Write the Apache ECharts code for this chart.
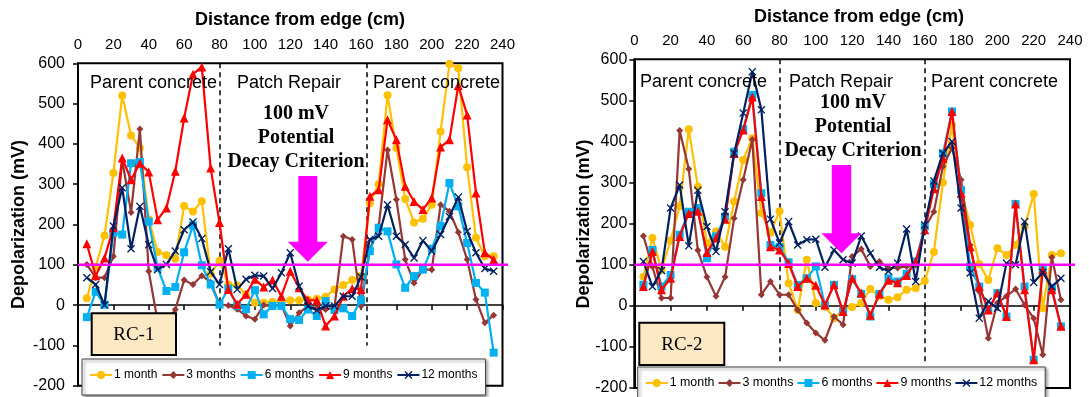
<!DOCTYPE html>
<html>
<head>
<meta charset="utf-8">
<script src="https://cdn.jsdelivr.net/npm/echarts@6/dist/echarts.min.js"></script>
<style>
html,body{margin:0;padding:0;background:#fff;}
#chart{width:1089px;height:397px;}
</style>
</head>
<body>
<div id="chart"></div>
<script>
// ---------------- DATA ----------------
const positions = [5,10,15,20,25,30,35,40,45,50,55,60,65,70,75,80,85,90,95,100,105,110,115,120,125,130,135,140,145,150,155,160,165,170,175,180,185,190,195,200,205,210,215,220,225,230,235];
const xTicks = [0,20,40,60,80,100,120,140,160,180,200,220,240];
const yTicks = [-200,-100,0,100,200,300,400,500,600];
const seriesNames = ['1 month','3 months','6 months','9 months','12 months'];

// RC-1 (left panel)
const rc1_m1  = [17,95,173,328,520,421,390,213,132,124,115,246,232,258,78,110,51,49,26,6,6,8,8,12,12,14,16,21,39,50,62,72,253,300,521,390,263,205,214,249,431,598,588,342,167,121,121];
const rc1_m3  = [101,68,68,121,360,230,437,84,-40,-45,-11,62,51,73,57,2,-1,-10,-27,-35,0,-3,0,-52,-19,-3,-8,-11,-5,171,163,-2,138,196,385,262,113,55,88,88,249,233,181,113,14,-44,-25];
const rc1_m6  = [-30,33,1,179,175,352,355,207,93,35,45,131,198,99,51,1,41,-2,-10,37,-23,-2,-2,-35,-37,-11,-27,10,-12,-8,-27,12,134,192,183,101,43,72,88,140,196,303,245,154,55,31,-118];
const rc1_m9  = [152,73,117,192,365,311,352,330,212,241,332,464,573,591,340,205,39,2,27,64,45,62,22,84,43,12,12,-52,-27,22,41,39,270,286,460,410,295,257,237,266,392,410,545,472,278,130,113];
const rc1_m12 = [68,51,0,196,291,140,245,150,88,101,134,187,206,165,83,51,140,39,64,74,72,41,80,130,47,-3,-13,-2,-2,22,22,70,163,171,249,171,150,117,160,134,175,220,268,183,130,91,84];

// RC-2 (right panel)
const rc2_m1  = [71,165,88,159,243,430,290,152,181,144,254,355,408,226,178,230,55,-10,112,7,-2,-30,-10,-3,7,41,23,15,21,39,43,61,131,300,440,282,197,102,63,140,124,148,193,272,-6,124,128];
const rc2_m3  = [170,95,19,19,427,333,135,70,23,70,213,307,405,27,59,27,27,-10,-42,-66,-84,-26,-46,120,138,96,108,92,92,96,99,189,229,339,384,307,148,35,-79,7,23,41,2,-30,-119,118,15];
const rc2_m6  = [51,136,47,75,173,229,238,116,169,217,375,430,513,274,148,143,106,51,67,96,2,51,-14,65,29,-26,29,67,59,78,108,193,296,371,473,282,96,47,-10,31,-26,248,47,-131,88,43,-50];
const rc2_m9  = [47,132,39,67,169,225,230,130,165,211,371,428,508,266,144,136,103,47,67,50,2,51,-14,67,31,-23,29,62,56,74,108,185,285,359,473,274,144,47,-10,31,-26,248,39,-131,88,39,-50];
const rc2_m12 = [108,47,86,238,294,146,281,193,132,229,371,469,570,477,211,153,205,148,161,162,94,136,112,104,170,128,94,84,104,187,59,197,304,371,400,238,80,-30,11,-6,104,100,205,57,81,47,67];

const rc1Data = [rc1_m1, rc1_m3, rc1_m6, rc1_m9, rc1_m12];
const rc2Data = [rc2_m1, rc2_m3, rc2_m6, rc2_m9, rc2_m12];
const dividers1 = [80, 163];
const dividers2 = [80, 160];
const criterion = 100;

// ---------------- STYLE ----------------
const SANS = 'Liberation Sans, Arial, sans-serif';
const SERIF = 'Liberation Serif, Times New Roman, serif';
const colors = ['#FFC000','#953735','#00B0F0','#FF0000','#002060'];
const xPath = 'path://M0,1.2L1.2,0L5,3.8L8.8,0L10,1.2L6.2,5L10,8.8L8.8,10L5,6.2L1.2,10L0,8.8L3.8,5Z';
const symbols = ['circle','diamond','rect','triangle', xPath];
const symSizes = [8,7,8,9,8];

const chart = echarts.init(document.getElementById('chart'), null, {renderer:'canvas'});

function makeSeries(dataSets, gridIdx, dividers) {
  return dataSets.map((vals, i) => {
    const s = {
      name: seriesNames[i],
      type: 'line',
      xAxisIndex: gridIdx*2 + 1,
      yAxisIndex: gridIdx,
      data: positions.map((p, k) => [p, vals[k]]),
      symbol: symbols[i],
      symbolSize: symSizes[i],
      showAllSymbol: true,
      lineStyle: {color: colors[i], width: 2.2},
      itemStyle: {color: colors[i], borderColor: colors[i], borderWidth: 0},
      emphasis: {disabled: true},
      clip: false,
      z: 3 + i
    };
    if (i === 0) {
      s.markLine = {
        silent: true,
        symbol: 'none',
        label: {show: false},
        lineStyle: {color: '#000', type: [5,4], width: 1.5},
        data: dividers.map(d => [{coord:[d, 600]}, {coord:[d, gridIdx === 0 ? -100 : -140]}]),
        z: 2
      };
    }
    return s;
  });
}

function xAxes(gridIdx, labelMargin) {
  return [
    {
      gridIndex: gridIdx, type: 'value', position: 'top', min: 0, max: 240, interval: 20,
      axisLine: {show: false, onZero: false}, axisTick: {show: false}, splitLine: {show: false},
      axisLabel: {fontFamily: SANS, fontSize: 15, color: '#000', margin: labelMargin}
    },
    {
      gridIndex: gridIdx, type: 'value', position: 'bottom', min: 0, max: 240, interval: 20,
      axisLine: {show: true, onZero: true, lineStyle: {color: '#000', width: 1.5}},
      axisTick: {show: true, length: 5, lineStyle: {color: '#000', width: 1.5}},
      axisLabel: {show: false}, splitLine: {show: false}
    }
  ];
}

function yAxis(gridIdx, margin) {
  return {
    gridIndex: gridIdx, type: 'value', min: -200, max: 600, interval: 100,
    axisLine: {show: true, lineStyle: {color: '#000', width: 2}},
    axisTick: {show: true, length: 5, lineStyle: {color: '#000', width: 1.5}},
    axisLabel: {fontFamily: SANS, fontSize: 16, color: '#000', margin: margin},
    splitLine: {show: false}
  };
}

function legend(left, top, width, itemGap, fontSize) {
  return {
    data: seriesNames, left: left, top: top, width: width,
    orient: 'horizontal', itemWidth: 22, itemHeight: 10, itemGap: itemGap,
    padding: [10, 8, 14, 7],
    backgroundColor: '#fff', borderColor: '#444', borderWidth: 1,
    shadowColor: 'rgba(0,0,0,0.45)', shadowBlur: 3, shadowOffsetX: 2, shadowOffsetY: 2,
    selectedMode: false,
    textStyle: {fontFamily: SANS, fontSize: fontSize, color: '#000', padding: [0,0,0,-3]},
    z: 20
  };
}

chart.setOption({
  animation: false,
  backgroundColor: '#fff',
  grid: [
    {left: 78, top: 63.3, width: 424.5, height: 322.4, show: true, borderColor: '#000', borderWidth: 2, backgroundColor: 'transparent'},
    {left: 634.3, top: 59.3, width: 435.7, height: 328.7, show: true, borderColor: '#000', borderWidth: 2, backgroundColor: 'transparent'}
  ],
  xAxis: [...xAxes(0, 11), ...xAxes(1, 11)],
  yAxis: [yAxis(0, 13), yAxis(1, 7)],
  legend: [legend(82, 359, 404, 4, 12), legend(637.7, 367, 408, 3, 12.4)],
  series: [...makeSeries(rc1Data, 0, dividers1), ...makeSeries(rc2Data, 1, dividers2)]
});

// ---------------- ANNOTATIONS ----------------
function txt(x, y, text, font, align, extra) {
  return Object.assign({
    type: 'text', x: x, y: y, z: 50,
    style: {text: text, font: font, fill: '#000', align: align || 'left', verticalAlign: 'middle'}
  }, extra || {});
}
function arrow(cx, top, baseY, tipY, shaftHalf, headHalf) {
  return {
    type: 'polygon', z: 40,
    shape: {points: [[cx-shaftHalf, top],[cx+shaftHalf, top],[cx+shaftHalf, baseY],[cx+headHalf, baseY],[cx, tipY],[cx-headHalf, baseY],[cx-shaftHalf, baseY]]},
    style: {fill: '#FF00FF'}
  };
}
function rcBox(x1, y1, x2, y2, label) {
  return [
    {type: 'rect', z: 60, shape: {x: x1, y: y1, width: x2-x1, height: y2-y1},
     style: {fill: '#FCE9C4', stroke: '#000', lineWidth: 2}},
    txt((x1+x2)/2, (y1+y2)/2 + 1, label, '19px ' + SERIF, 'center', {z: 61})
  ];
}
const p0 = chart.convertToPixel({gridIndex: 0}, [0, criterion]);
const p1 = chart.convertToPixel({gridIndex: 1}, [0, criterion]);

const bold18 = 'bold 18px ' + SANS;
const reg18 = '18px ' + SANS;
const crit = 'bold 20px ' + SERIF;

chart.setOption({
  graphic: [
    // magenta criterion lines
    {type: 'line', z: 30, shape: {x1: 78, y1: p0[1], x2: 508, y2: p0[1]}, style: {stroke: '#FF00FF', lineWidth: 2.5}},
    {type: 'line', z: 30, shape: {x1: 634.3, y1: p1[1], x2: 1075, y2: p1[1]}, style: {stroke: '#FF00FF', lineWidth: 2.5}},
    // titles
    txt(300, 20, 'Distance from edge (cm)', bold18, 'center'),
    txt(859, 17, 'Distance from edge (cm)', bold18, 'center'),
    txt(19, 224.5, 'Depolarization (mV)', bold18, 'center', {rotation: Math.PI/2}),
    txt(584, 224, 'Depolarization (mV)', bold18, 'center', {rotation: Math.PI/2}),
    // zone labels left
    txt(90, 83, 'Parent concrete', reg18),
    txt(237, 83, 'Patch Repair', reg18),
    txt(373, 83, 'Parent concrete', reg18),
    // zone labels right
    txt(640, 82, 'Parent concrete', reg18),
    txt(789, 82, 'Patch Repair', reg18),
    txt(931, 82, 'Parent concrete', reg18),
    // criterion text
    txt(296, 114, '100 mV', crit, 'center'),
    txt(296, 138, 'Potential', crit, 'center'),
    txt(296, 161.5, 'Decay Criterion', crit, 'center'),
    txt(853, 103, '100 mV', crit, 'center'),
    txt(853, 127, 'Potential', crit, 'center'),
    txt(853, 151, 'Decay Criterion', crit, 'center'),
    // arrows
    arrow(307.8, 176, 241.7, 261.7, 9.5, 20),
    arrow(841.5, 165, 233.3, 253.3, 9.7, 20),
    // RC boxes
    ...rcBox(91.7, 313.3, 176, 355, 'RC-1'),
    ...rcBox(639.3, 322.7, 724.3, 365, 'RC-2')
  ]
});
</script>
</body>
</html>
